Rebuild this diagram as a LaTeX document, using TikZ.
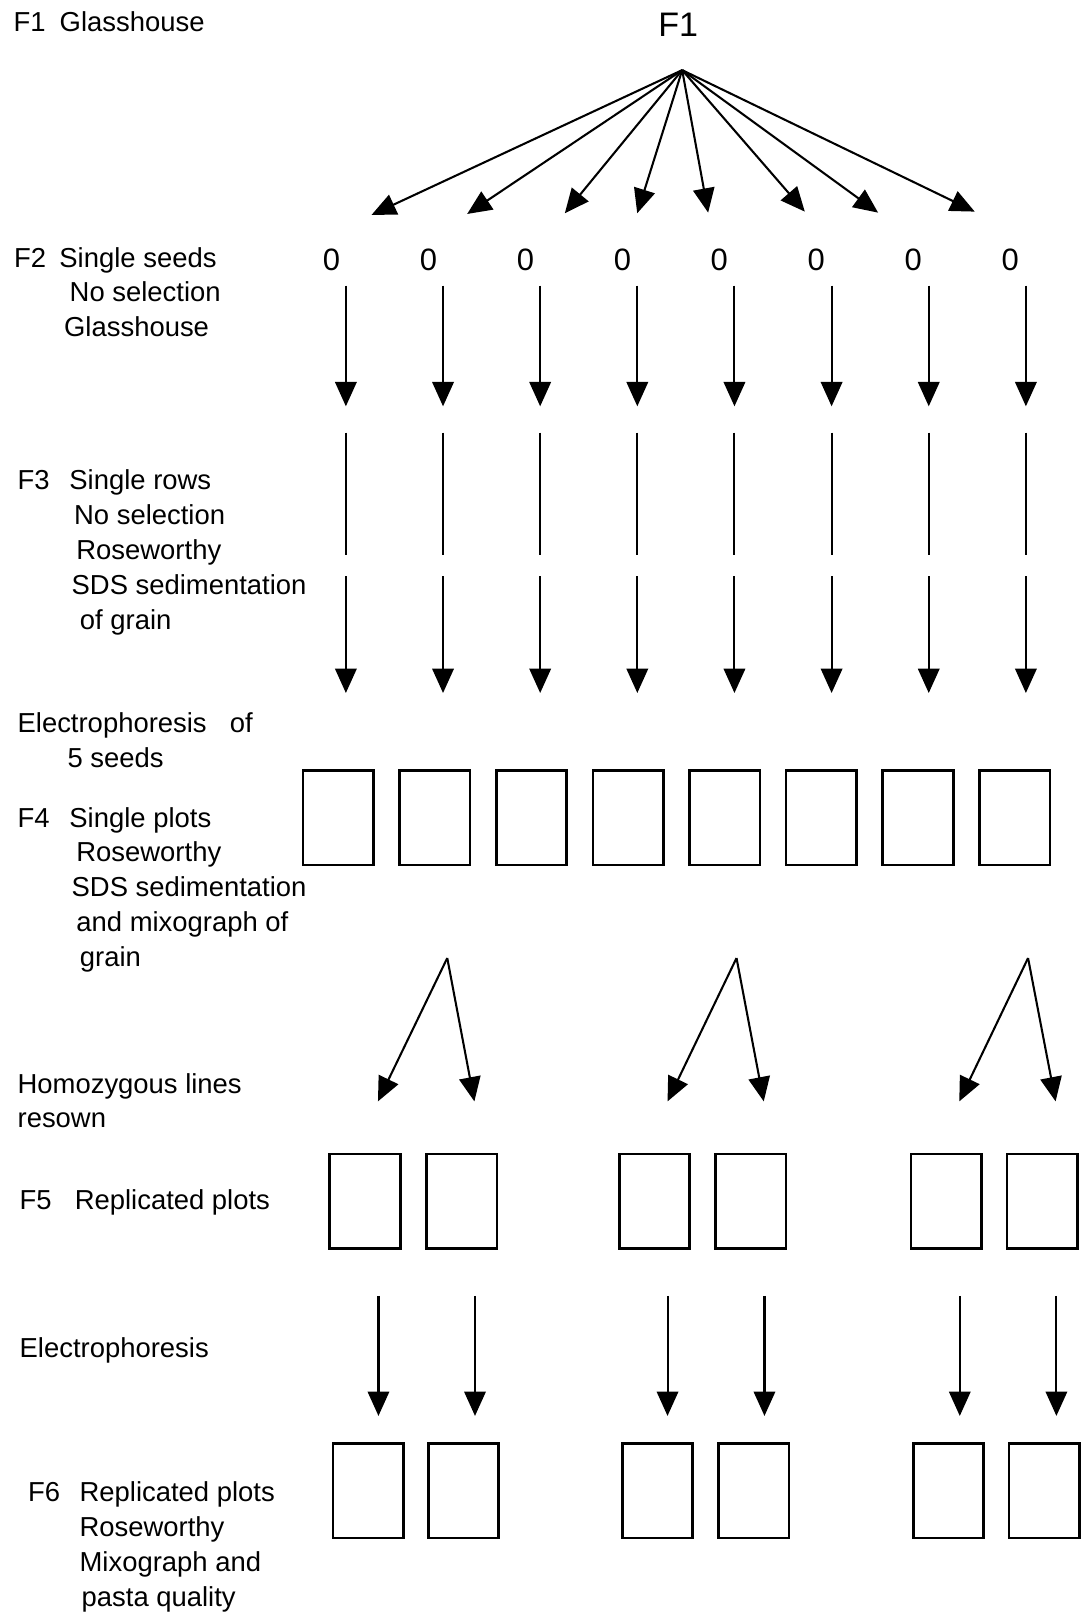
\documentclass[tikz,border=0pt]{standalone}
\usepackage{fontspec}
\setmainfont{Liberation Sans}
\usepackage{tikz}
\usetikzlibrary{arrows.meta,positioning}

\tikzset{
  gen/.style={anchor=base west, inner sep=0pt, align=left,
    font=\fontsize{13.3}{16.9}\selectfont},
  seed/.style={anchor=base, inner sep=0pt, font=\fontsize{15}{18}\selectfont},
  plot/.style={draw, line width=1.3pt, inner sep=0pt,
    minimum width=34.2pt, minimum height=45.9pt},
  flow/.style={line width=1pt, -{Triangle[width=10.4pt,length=11.8pt]}},
  rowline/.style={line width=1pt},
}

\begin{document}
\begin{tikzpicture}[x=0.5pt,y=-0.5pt]
\useasboundingbox (0,0) rectangle (1048,1568);

% generations down the left (placed at the baseline of their last line)
\node[gen] (g1) at (12.9,31) {F1\hspace{6.8pt}Glasshouse};
\node[gen] (g2) at (13.4,326.6) {F2\hspace{6.4pt}Single seeds\\
  \hspace*{26.9pt}No selection\\
  \hspace*{24.2pt}Glasshouse};
\node[gen] (g3) at (16.7,610.2) {F3\hspace{9.6pt}Single rows\\
  \hspace*{27.4pt}No selection\\
  \hspace*{28.5pt}Roseworthy\\
  \hspace*{26.2pt}SDS sedimentation\\
  \hspace*{30.2pt}of grain};
\node[gen] (ep1) at (16.7,743.8) {Electrophoresis\hspace{11.3pt}of\\
  \hspace*{24.2pt}5 seeds};
\node[gen] (g4) at (16.7,937.2) {F4\hspace{9.6pt}Single plots\\
  \hspace*{28.5pt}Roseworthy\\
  \hspace*{26.2pt}SDS sedimentation\\
  \hspace*{28.5pt}and mixograph of\\
  \hspace*{30.2pt}grain};
\node[gen] (hom) at (16.7,1093.8) {Homozygous lines\\resown};
\node[gen] (g5) at (18.7,1173) {F5\hspace{11.2pt}Replicated plots};
\node[gen] (ep2) at (18.7,1316) {Electrophoresis};
\node[gen] (g6) at (26.8,1557.4) {F6\hspace{9.5pt}Replicated plots\\
  \hspace*{25pt}Roseworthy\\
  \hspace*{25pt}Mixograph and\\
  \hspace*{26pt}pasta quality};

% F1 fanning out to single seeds
\node[seed, font=\fontsize{16.5}{20}\selectfont] (f1) at (657.6,35.5) {F1};
\coordinate (top) at (661.5,68);
\foreach \x/\y [count=\i] in {360.3/208.4, 453/207.5, 547.7/206.8, 617.9/206.8,
    686.7/206.2, 780.4/205.2, 851.5/206.2, 945.2/205.2} {
  \coordinate (fan\i) at (\x,\y);
  \draw[flow] (top) -- (fan\i);
}

% seeds -> rows -> single plots
\foreach \i in {1,...,8} {
  \pgfmathsetmacro{\xs}{321.5+94*(\i-1)}
  \pgfmathsetmacro{\xa}{335.4+94.2*(\i-1)}
  \pgfmathsetmacro{\xb}{328+93.7*(\i-1)}
  \node[seed] (s\i) at (\xs,262) {0};
  \coordinate (sa\i) at (\xa,277);
  \coordinate (sb\i) at (\xa,394);
  \draw[flow] (sa\i) -- (sb\i);
  \coordinate (ra\i) at (\xa,419.5);
  \coordinate (rb\i) at (\xa,538);
  \draw[rowline] (ra\i) -- (rb\i);
  \coordinate (pa\i) at (\xa,559);
  \coordinate (pb\i) at (\xa,672);
  \draw[flow] (pa\i) -- (pb\i);
  \node[plot] (p\i) at (\xb,793) {};
}

% selected homozygous lines
\foreach \k/\xa/\xl/\xr in {1/433.7/366.5/460, 2/714.2/647.3/740.6,
    3/996.9/930.2/1023.6} {
  \coordinate (sel\k) at (\xa,929);
  \coordinate (sl\k) at (\xl,1068);
  \coordinate (sr\k) at (\xr,1068);
  \draw[flow] (sel\k) -- (sl\k);
  \draw[flow] (sel\k) -- (sr\k);
}

% replicated plots F5 and F6
\foreach \x/\xf/\xe [count=\j] in {353.9/367/357, 447.6/460.6/449.5,
    634.7/647.3/637.6, 728.1/741.3/731, 917.5/930.7/919.7, 1010.8/1024.4/1012.6} {
  \node[plot] (r\j) at (\x,1165) {};
  \coordinate (ea\j) at (\xf,1256.5);
  \coordinate (eb\j) at (\xf,1373);
  \draw[flow] (ea\j) -- (eb\j);
  \node[plot] (q\j) at (\xe,1445.5) {};
}
\end{tikzpicture}
\end{document}
